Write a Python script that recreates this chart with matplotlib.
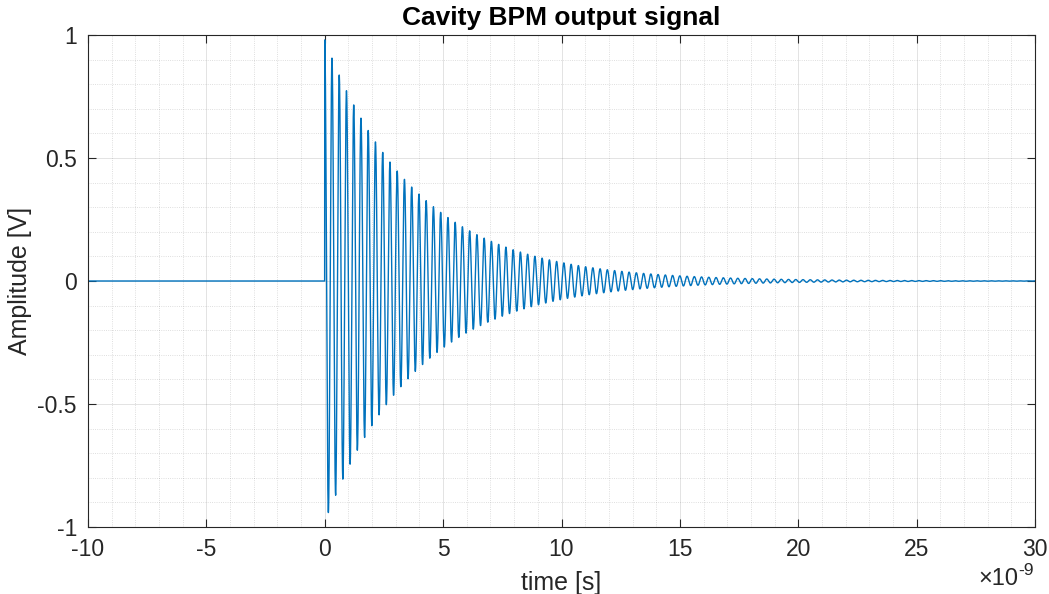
import numpy as np
import matplotlib
matplotlib.use('Agg')
import matplotlib.pyplot as plt
from matplotlib.ticker import MultipleLocator, FuncFormatter

plt.rcParams['font.family'] = ['Liberation Sans', 'DejaVu Sans']
plt.rcParams['axes.unicode_minus'] = False

# signal parameters
t_min, t_max = -10e-9, 30e-9
n_samples = 8001
amp = 0.98          # first peak [V]
f_res = 3.267e9     # ringing frequency [Hz]
tau = 3.9e-9        # decay time [s]

x_ticks = [-10, -5, 0, 5, 10, 15, 20, 25, 30]
y_ticks = [-1, -0.5, 0, 0.5, 1]

t = np.linspace(t_min, t_max, n_samples)
v = np.where(t >= 0, amp * np.exp(-t / tau) * np.cos(2 * np.pi * f_res * t), 0.0)

fig = plt.figure(figsize=(10.49, 5.94), dpi=100)
ax = fig.add_axes([88 / 1049, 67 / 594, 947 / 1049, 492 / 594])

ax.plot(t * 1e9, v, color='#0072BD', lw=1.0)

ax.set_xlim(-10, 30)
ax.set_ylim(-1, 1)
ax.set_xticks(x_ticks)
ax.set_yticks(y_ticks)
ax.xaxis.set_minor_locator(MultipleLocator(1))
ax.yaxis.set_minor_locator(MultipleLocator(0.1))
ax.yaxis.set_major_formatter(FuncFormatter(lambda y, p: '%g' % y))

axcol = '#262626'
ax.tick_params(which='major', direction='in', length=6, width=0.8, colors=axcol,
               labelsize=16.5, top=True, right=True, pad=8)
ax.tick_params(which='minor', length=0, top=True, right=True)
for s in ax.spines.values():
    s.set_color(axcol)
    s.set_linewidth(0.8)

ax.grid(which='major', color=axcol, alpha=0.15, lw=0.6, ls='-')
ax.grid(which='minor', color=axcol, alpha=0.2, lw=0.6, ls=':')
ax.set_axisbelow(True)

ax.set_title('Cavity BPM output signal', fontsize=19, fontweight='bold', color='black', pad=7)
ax.set_xlabel('time [s]', fontsize=18, color=axcol, labelpad=7)
ax.set_ylabel('Amplitude [V]', fontsize=18, color=axcol, labelpad=4)

# exponent label in the lower right corner
fig.text(1018 / 1049, 4 / 594, '\u00d710', fontsize=17, color=axcol, ha='right', va='bottom')
fig.text(1018 / 1049, 16 / 594, '-9', fontsize=12.5, color=axcol, ha='left', va='bottom')

fig.savefig('out.png', dpi=100)
